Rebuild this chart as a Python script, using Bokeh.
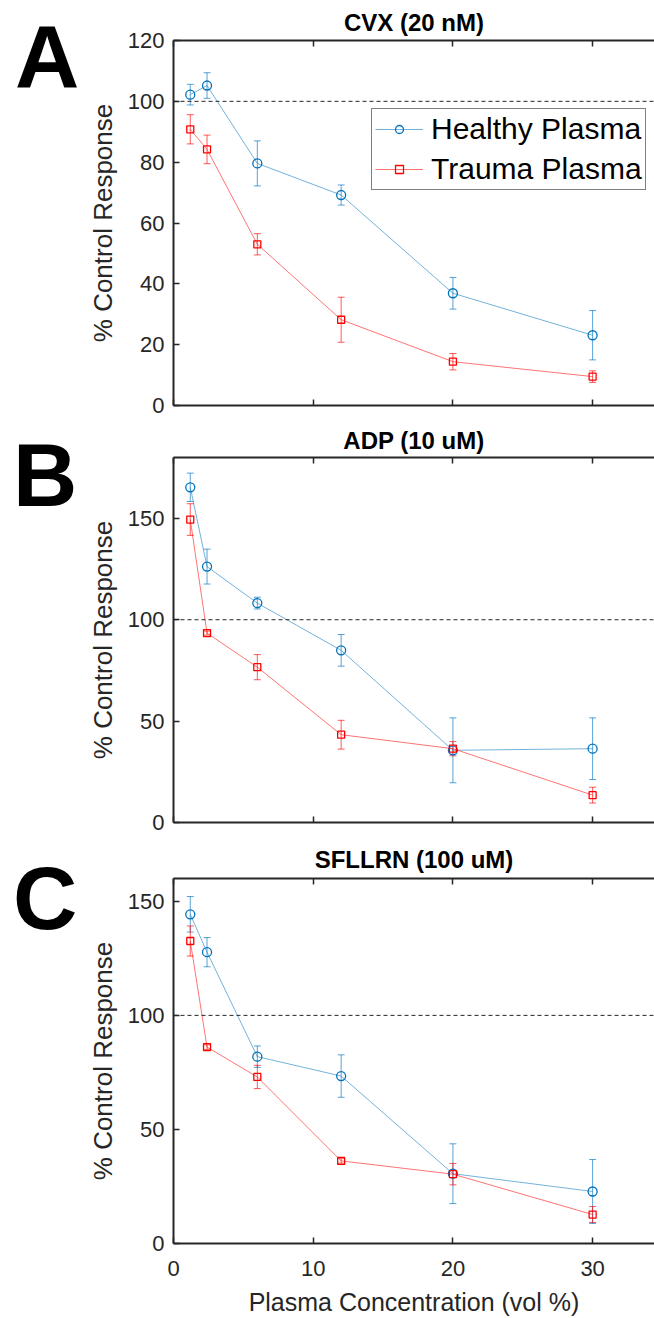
from bokeh.plotting import figure
from bokeh.models import (Range1d, LinearAxis, FixedTicker, Span, Whisker, TeeHead,
                          ColumnDataSource, Legend, LegendItem, Div)
from bokeh.layouts import column, row
from bokeh.embed import file_html
from bokeh.resources import INLINE

# ---------------- data ----------------
conc = [1.2, 2.4, 6, 12, 20, 30]
x_ticks = [0, 10, 20, 30]

cvx_healthy = [102.2, 105.2, 79.6, 69.2, 36.9, 23.1]
cvx_healthy_err = [3.4, 4.2, 7.4, 3.3, 5.2, 8.1]
cvx_trauma = [90.8, 84.2, 53.0, 28.2, 14.4, 9.5]
cvx_trauma_err = [4.8, 4.7, 3.5, 7.4, 2.7, 1.9]

adp_healthy = [165.3, 126.2, 108.2, 84.9, 35.6, 36.4]
adp_healthy_err = [7.0, 8.6, 2.9, 7.8, 16.0, 15.2]
adp_trauma = [149.4, 93.4, 76.6, 43.3, 36.4, 13.5]
adp_trauma_err = [7.8, 1.0, 6.2, 7.1, 3.5, 3.9]

sfl_healthy = [144.3, 127.7, 81.9, 73.4, 30.6, 22.8]
sfl_healthy_err = [7.8, 6.4, 4.7, 9.3, 13.1, 14.0]
sfl_trauma = [132.6, 86.1, 73.0, 36.2, 30.4, 12.7]
sfl_trauma_err = [6.6, 1.0, 5.1, 1.0, 4.7, 3.5]

panel_titles = ["CVX (20 nM)", "ADP (10 uM)", "SFLLRN (100 uM)"]
panel_letters = ["A", "B", "C"]
y_max = [120, 180, 160]
y_ticks = [[0, 20, 40, 60, 80, 100, 120], [0, 50, 100, 150], [0, 50, 100, 150]]
series_names = ["Healthy Plasma", "Trauma Plasma"]
control_level = 100

FONT = "Liberation Sans"
AX = "#262626"
BLUE = "#0072BD"
RED = "#FF0000"
DIV_W = 80
FIG_W = 654 - DIV_W


def style_axis(ax, labels=True, size="22px"):
    ax.axis_line_color = AX
    ax.axis_line_width = 2
    ax.major_tick_line_color = AX
    ax.major_tick_line_width = 1.5
    ax.major_tick_in = 6
    ax.major_tick_out = 0
    ax.minor_tick_line_color = None
    ax.major_label_text_font = FONT
    ax.major_label_text_color = AX
    ax.major_label_text_font_size = size
    if not labels:
        ax.major_label_overrides = {t: "" for t in x_ticks}
        ax.major_label_text_font_size = "1px"
        ax.major_label_standoff = 0


def make_panel(i, healthy, healthy_err, trauma, trauma_err, height, b_top, b_bottom,
               title_standoff, letter_top, letter_left, xlabel=False, legend=False):
    p = figure(width=FIG_W, height=height, output_backend="svg", toolbar_location=None,
               x_range=Range1d(0, 34.43), y_range=Range1d(0, y_max[i]),
               min_border_left=173 - DIV_W, min_border_right=0,
               min_border_top=b_top, min_border_bottom=b_bottom)
    p.outline_line_color = None
    p.xgrid.grid_line_color = None
    p.ygrid.grid_line_color = None
    p.background_fill_color = "white"
    p.border_fill_color = "white"

    p.title.text = panel_titles[i]
    p.title.align = "center"
    p.title.offset = 3.5
    p.title.text_font = FONT
    p.title.text_font_size = "24px"
    p.title.text_font_style = "bold"
    p.title.text_color = "black"
    p.title.standoff = title_standoff

    p.xaxis.ticker = FixedTicker(ticks=x_ticks)
    p.yaxis.ticker = FixedTicker(ticks=y_ticks[i])
    style_axis(p.xaxis[0], labels=xlabel)
    style_axis(p.yaxis[0])
    p.yaxis.major_label_standoff = 9
    p.yaxis.axis_label = "% Control Response"
    p.yaxis.axis_label_text_font = FONT
    p.yaxis.axis_label_text_font_style = "normal"
    p.yaxis.axis_label_text_font_size = "26px"
    p.yaxis.axis_label_text_color = AX
    p.yaxis.axis_label_standoff = 7
    if xlabel:
        p.xaxis.major_label_standoff = 17
        p.xaxis.axis_label = "Plasma Concentration (vol %)"
        p.xaxis.axis_label_text_font = FONT
        p.xaxis.axis_label_text_font_style = "normal"
        p.xaxis.axis_label_text_font_size = "25px"
        p.xaxis.axis_label_text_color = AX
        p.xaxis.axis_label_standoff = 9

    top = LinearAxis(ticker=FixedTicker(ticks=x_ticks))
    style_axis(top, labels=False)
    p.add_layout(top, "above")

    p.add_layout(Span(location=control_level, dimension="width", line_color=AX,
                      line_width=1, line_dash="4 3"))

    items = []
    for vals, errs, color, marker, msize, name in [
            (healthy, healthy_err, BLUE, "circle", 9, series_names[0]),
            (trauma, trauma_err, RED, "square", 7, series_names[1])]:
        src = ColumnDataSource(dict(
            x=conc, y=vals,
            upper=[v + e for v, e in zip(vals, errs)],
            lower=[v - e for v, e in zip(vals, errs)]))
        lr = p.line("x", "y", source=src, line_color=color, line_alpha=0.55, line_width=1)
        mr = p.scatter("x", "y", source=src, marker=marker, size=msize, fill_color=None,
                       line_color=color, line_width=1.3)
        p.add_layout(Whisker(source=src, base="x", upper="upper", lower="lower",
                             line_color=color, line_alpha=0.65, line_width=1,
                             upper_head=TeeHead(size=7, line_color=color, line_alpha=0.65, line_width=1),
                             lower_head=TeeHead(size=7, line_color=color, line_alpha=0.65, line_width=1)))
        items.append(LegendItem(label=name, renderers=[lr, mr]))

    if legend:
        leg = Legend(items=items, location=(198, 215))
        leg.label_text_font = FONT
        leg.label_text_font_size = "30px"
        leg.label_text_color = "black"
        leg.glyph_width = 48
        leg.glyph_height = 20
        leg.label_standoff = 8
        leg.label_height = 31
        leg.spacing = 6
        leg.padding = 3
        leg.margin = 0
        leg.border_line_color = "black"
        leg.border_line_width = 1.5
        leg.background_fill_color = "white"
        leg.background_fill_alpha = 1
        p.add_layout(leg)

    letter = Div(
        text=('<div style="font-family:\'Liberation Sans\';font-size:89px;font-weight:bold;'
              'line-height:1;color:black;padding-top:%dpx;padding-left:%dpx;">%s</div>'
              % (letter_top, letter_left, panel_letters[i])),
        width=DIV_W, height=height, margin=0)
    return row(letter, p, spacing=0)


pa = make_panel(0, cvx_healthy, cvx_healthy_err, cvx_trauma, cvx_trauma_err,
                419, 40, 14, 10, 13, 15, legend=True)
pb = make_panel(1, adp_healthy, adp_healthy_err, adp_trauma, adp_trauma_err,
                417, 38, 14, 8, 12, 13)
pc = make_panel(2, sfl_healthy, sfl_healthy_err, sfl_trauma, sfl_trauma_err,
                482, 42, 75, 12, 18, 13, xlabel=True)

layout = column(pa, pb, pc, spacing=0)
open("out.html", "w").write(file_html(layout, INLINE))
